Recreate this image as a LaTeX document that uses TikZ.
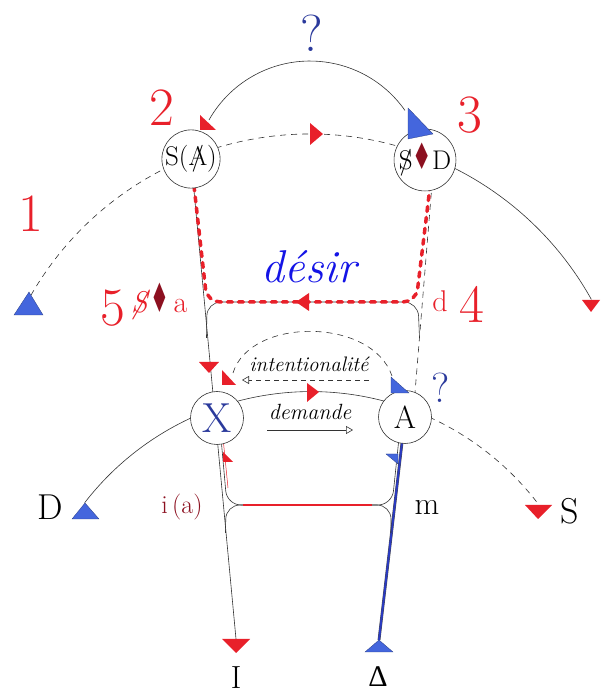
\RequirePackage{fix-cm}
\documentclass[tikz,border=0pt]{standalone}
\usepackage{fontspec}
\usepackage{graphicx}
\newfontfamily\dejavu{DejaVu Sans}
\newfontfamily\libser{Liberation Serif}
\usetikzlibrary{arrows.meta}
\pgfdeclarelayer{bg}
\pgfsetlayers{bg,main}
\definecolor{myred}{HTML}{E8202A}
\definecolor{myblue}{HTML}{4466DD}
\definecolor{navy}{HTML}{2B3A9C}
\definecolor{desirblue}{HTML}{1414E6}
\definecolor{darkred}{HTML}{8C1020}
\definecolor{lineblue}{HTML}{2A3AC0}
\newcommand\barred[1]{{\ooalign{#1\cr\hidewidth/\hidewidth\cr}}}
\newcommand\losange[1]{{\color{darkred}\dejavu\scalebox{#1}[1.35]{♦}}}
\begin{document}
\begin{tikzpicture}[x=1pt,y=1pt,
  ln/.style={line width=0.6pt, draw=black!80},
  dsh/.style={ln, dash pattern=on 6pt off 5pt},
  circ/.style={circle, draw=black!80, line width=0.6pt, fill=white, inner sep=0pt, minimum size=53pt},
  lbl/.style={inner sep=0pt},
  bluetri/.style={fill=myblue, draw=myblue!60!black, line width=0.3pt},
  redtri/.style={fill=myred},
  num/.style={lbl, text=myred, font=\fontsize{54}{54}\selectfont},
  desirline/.style={draw=myred, line width=3.5pt, dash pattern=on 5pt off 6pt, line cap=round},
  openhead/.style={-{Triangle[open, length=7pt, width=8pt]}}
]
\useasboundingbox (0,0) rectangle (601,693);

% nodes
\node[circ] (SA) at (191,534) {\fontsize{27}{27}\selectfont S(\barred{A})};
\node[circ, minimum size=54pt] (SD) at (425,533) {\fontsize{27}{27}\selectfont \barred{S}\losange{0.8}D};
\node[circ] (X) at (217,275) {\fontsize{42}{42}\selectfont\color{navy}X};
\node[circ] (A) at (405,276) {\fontsize{32}{32}\selectfont A};

\coordinate (Itop) at (236,54);
\coordinate (Dtop) at (379,53);

\begin{pgfonlayer}{bg}
  % big upper arc
  \draw[dsh] (30.8,397.5) arc[start angle=150.1, end angle=69, radius=322];
  \draw[ln] (425.4,537.6) arc[start angle=69, end angle=29.1, radius=322];
  % top question arc
  \draw[ln] (405,582.5) arc[start angle=35, end angle=150.6, radius=116];
  % lower arc
  \draw[ln] (84.7,190.3) arc[start angle=142.3, end angle=70, radius=286];
  \draw[dsh] (408.8,284.2) arc[start angle=70, end angle=37.3, radius=286];
  % verticals
  \draw[ln] (SA.center) -- (Itop);
  \draw[line width=2.8pt, black!70] (A.center) -- (Dtop);
  \draw[line width=2pt, lineblue] (A.center) -- (Dtop);
  \draw[dsh] ([xshift=9pt]SD.center) -- ([xshift=8pt]A.center);
  % hat
  \draw[ln, rounded corners=14pt] (206.5,355) -- (207,391) -- (418,391) -- (419.5,355);
  % desir path
  \draw[desirline, rounded corners=13pt] (194,507) -- (207,391) -- (416,391) -- (430,506);
  % intentionalite arc
  \draw[dsh] (233,320) .. controls (250,376) and (372,376) .. (392,317);
  % small arrows
  \draw[ln, dash pattern=on 5pt off 4pt, openhead] (369,313) -- (242,313);
  \draw[ln, openhead] (267,263) -- (353,263);
  % braces
  \draw[ln, rounded corners=14pt] (221,255) -- (227,188) -- (244,188);
  \draw[myred, line width=0.5pt] (223,255) -- (228,205);
  \draw[ln, rounded corners=14pt] (244,188) -- (226,188) -- (225.5,160);
  \draw[ln, rounded corners=14pt] (399,255) -- (392,188) -- (371,188);
  \draw[ln, rounded corners=14pt] (371,188) -- (391,188) -- (391,160);
  \draw[myred, line width=1.2pt] (243,188) -- (372,188);
\end{pgfonlayer}

% markers
\filldraw[bluetri] (14,378) -- (43,378) -- (29,401) -- cycle;
\fill[redtri] (582,393) -- (600,393) -- (591,381) -- cycle;
\fill[redtri] (310,570) -- (310,548) -- (323,559) -- cycle;
\filldraw[bluetri] (408,585) -- (408,554) -- (433,559) -- cycle;
\fill[redtri] (200,578) -- (200,563) -- (216,563) -- cycle;
\filldraw[bluetri] (72,174) -- (99,174) -- (85,190) -- cycle;
\fill[redtri] (525,188) -- (552,188) -- (538,174) -- cycle;
\fill[redtri] (307,310) -- (307,291) -- (319,301) -- cycle;
\fill[redtri] (199,331) -- (219,331) -- (209,320) -- cycle;
\fill[redtri] (222,323) -- (222,308) -- (236,308) -- cycle;
\filldraw[bluetri] (391,316) -- (391,300) -- (409,300) -- cycle;
\fill[redtri] (223,241) -- (223,231) -- (233,231) -- cycle;
\filldraw[bluetri] (386,239) -- (398,239) -- (398,229) -- cycle;
\fill[redtri] (222,54) -- (250,54) -- (236,40) -- cycle;
\filldraw[bluetri] (365,41) -- (393,41) -- (379,53) -- cycle;
\fill[redtri] (296,391) -- (309,400) -- (309,382) -- cycle;

% texts
\node[lbl, text=navy, font=\fontsize{52}{52}\selectfont] (q1) at (312,660) {?};
\node[num] (n1) at (31,479) {1};
\node[num] (n2) at (162,585) {2};
\node[num] (n3) at (470,578) {3};
\node[num] (n4) at (472,389) {4};
\node[num] (n5) at (113,385) {5};
\node[lbl, anchor=base west, text=myred, font=\fontsize{30}{30}\selectfont] (sa) at (131,380) {\textit{\barred{S}}\hspace{3pt}\losange{0.7}\hspace{4pt}a};
\node[lbl, anchor=base, text=myred, font=\fontsize{30}{30}\selectfont] (d) at (440,381) {d};
\node[lbl, anchor=base, text=desirblue, font=\fontsize{46}{46}\selectfont\itshape] (desir) at (309,410) {désir};
\node[lbl, anchor=base, font=\fontsize{21}{21}\selectfont\itshape] (intent) at (309,321) {intentionalité};
\node[lbl, anchor=base, font=\fontsize{22}{22}\selectfont\itshape] (dem) at (310,273) {demande};
\node[lbl, text=navy, font=\fontsize{42}{42}\selectfont] (q2) at (441,305) {?};
\node[lbl, font=\fontsize{36}{36}\selectfont] (Dl) at (50,186) {D};
\node[lbl, text=darkred, font=\fontsize{26}{26}\selectfont] (ia) at (182,186) {i\,(a)};
\node[lbl, font=\fontsize{32}{32}\selectfont] (m) at (427,186) {m};
\node[lbl, font=\fontsize{36}{36}\selectfont] (Sl) at (570,182) {S};
\node[lbl, anchor=north, font=\fontsize{32}{32}\selectfont] (Il) at (236,27) {I};
\node[lbl, anchor=north, font=\fontsize{30}{30}\libser] (Del) at (378,27) {Δ};
\end{tikzpicture}
\end{document}
